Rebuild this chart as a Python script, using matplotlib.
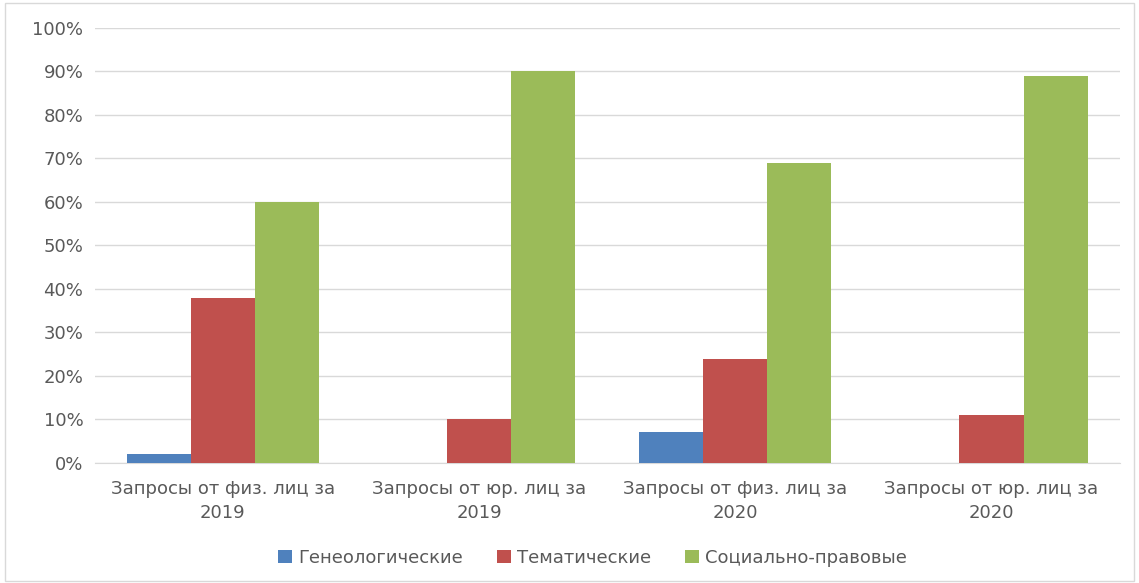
import numpy as np
import matplotlib.pyplot as plt
from matplotlib.patches import Rectangle

categories = ['Запросы от физ. лиц за\n2019', 'Запросы от юр. лиц за\n2019',
              'Запросы от физ. лиц за\n2020', 'Запросы от юр. лиц за\n2020']
series_names = ['Генеологические', 'Тематические', 'Социально-правовые']
geneal = [2, 0, 7, 0]
themat = [38, 10, 24, 11]
social = [60, 90, 69, 89]
colors = ['#4f81bd', '#c0504d', '#9bbb59']

plt.rcParams['font.family'] = ['DejaVu Sans']

fig = plt.figure(figsize=(11.39, 5.83), dpi=100)
fig.patches.append(Rectangle((0.004, 0.004), 0.992, 0.99, transform=fig.transFigure,
                             fill=False, edgecolor='#d9d9d9', linewidth=1))
ax = fig.add_axes([0.083, 0.206, 0.9, 0.746])

x = np.arange(len(categories))
w = 0.25
for i, (vals, name) in enumerate(zip([geneal, themat, social], series_names)):
    ax.bar(x + (i - 1) * w, vals, w, color=colors[i], label=name, zorder=3)

ax.set_xlim(-0.5, 3.5)
ax.set_ylim(0, 100)
ax.set_yticks(range(0, 101, 10))
ax.set_yticklabels([f'{v}%' for v in range(0, 101, 10)])
ax.set_xticks(x)
ax.set_xticklabels(categories, linespacing=1.45)
ax.grid(axis='y', color='#d9d9d9', linewidth=1, zorder=0)
for s in ['top', 'right', 'left']:
    ax.spines[s].set_visible(False)
ax.spines['bottom'].set_color('#d9d9d9')
ax.tick_params(axis='both', length=0, colors='#595959', labelsize=13)
ax.tick_params(axis='y', pad=8)
ax.tick_params(axis='x', pad=12)

ax.legend(loc='center', bbox_to_anchor=(0.486, -0.218), ncol=3, frameon=False,
          fontsize=13, labelcolor='#595959', handlelength=0.75, handleheight=0.75,
          handletextpad=0.35, columnspacing=1.9)

fig.savefig('out.png', dpi=100)
